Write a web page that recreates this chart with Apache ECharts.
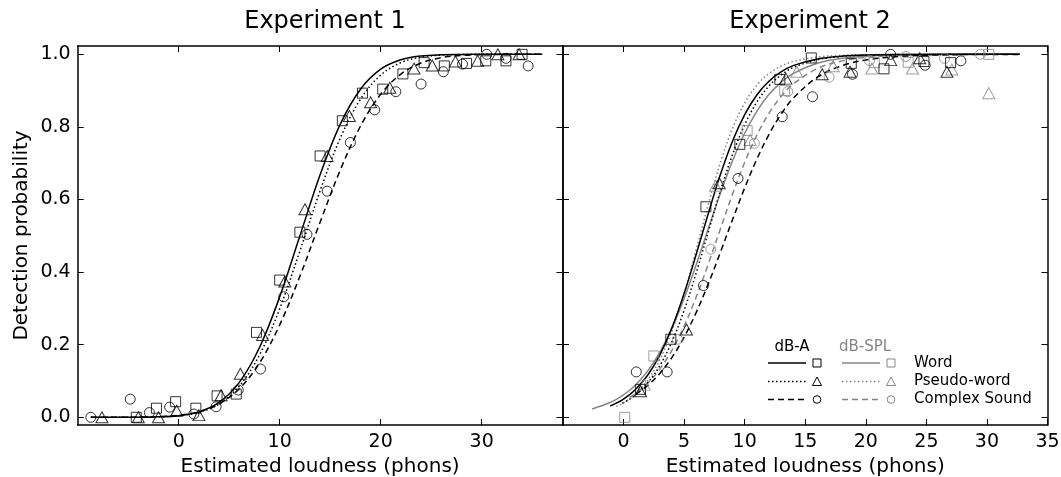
<!DOCTYPE html>
<html>
<head>
<meta charset="utf-8">
<script src="https://cdn.jsdelivr.net/npm/echarts@6/dist/echarts.min.js"></script>
<style>
  html, body { margin: 0; padding: 0; background: #fff; }
  #chart { width: 1061px; height: 477px; }
</style>
</head>
<body>
<div id="chart"></div>
<script>
// Experiment 1 : points (x = loudness in phons, p = detection probability)
var e1WordX = [-4.2, -2.2, -0.3, 1.7, 3.8, 5.7, 7.7, 10.0, 12.0, 14.0, 16.2, 18.2, 20.2, 22.2, 24.3, 26.3, 28.5, 30.4, 32.4, 34.0];
var e1WordP = [0.0, 0.025, 0.043, 0.025, 0.059, 0.064, 0.234, 0.378, 0.51, 0.72, 0.817, 0.893, 0.904, 0.946, 0.977, 0.968, 0.975, 0.982, 0.982, 1.0];
var e1PseudoX = [-7.6, -4.0, -2.0, -0.2, 2.0, 4.2, 6.1, 8.3, 10.5, 12.5, 14.7, 16.9, 19.0, 20.9, 23.3, 25.1, 27.4, 29.6, 31.6, 33.7];
var e1PseudoP = [0.0, 0.0, 0.0, 0.018, 0.006, 0.061, 0.12, 0.227, 0.374, 0.573, 0.72, 0.83, 0.868, 0.908, 0.961, 0.969, 0.98, 0.982, 1.0, 1.0];
var e1ComplexX = [-8.7, -4.8, -2.9, -0.9, 1.5, 3.7, 5.9, 8.1, 10.4, 12.7, 14.7, 17.0, 19.4, 21.5, 24.0, 26.2, 28.1, 30.5, 32.4, 34.6];
var e1ComplexP = [0.0, 0.05, 0.013, 0.028, 0.009, 0.029, 0.075, 0.133, 0.332, 0.504, 0.623, 0.757, 0.847, 0.897, 0.918, 0.952, 0.973, 1.0, 0.989, 0.968];

// Experiment 1 : fitted curves
var e1FitX = [-8.7, -6, -4, -2, 0, 2, 4, 6, 8, 10, 12, 14, 16, 18, 20, 22, 24, 26, 28, 30, 33, 36];
var e1WordFit = [0, 0.0001, 0.0003, 0.0012, 0.0045, 0.015, 0.0409, 0.0961, 0.1922, 0.3318, 0.5, 0.6682, 0.8078, 0.9039, 0.9591, 0.985, 0.9955, 0.9988, 0.9997, 1, 1, 1];
var e1PseudoFit = [0, 0.0001, 0.0003, 0.0011, 0.0043, 0.0135, 0.0367, 0.0856, 0.1718, 0.2994, 0.4582, 0.624, 0.7694, 0.8765, 0.9428, 0.9772, 0.9922, 0.9977, 0.9994, 0.9999, 1, 1];
var e1ComplexFit = [0, 0.0001, 0.0005, 0.0017, 0.0054, 0.015, 0.0367, 0.0785, 0.1497, 0.2546, 0.3886, 0.5376, 0.6815, 0.8021, 0.8899, 0.9456, 0.9762, 0.9909, 0.9969, 0.9991, 0.9999, 1];

// Experiment 2 : points, dB-A (black) and dB-SPL (grey)
var e2WordAX = [1.4, 3.9, 6.8, 9.6, 12.9, 15.5, 18.8, 21.5, 24.8, 27.0];
var e2WordAP = [0.077, 0.215, 0.58, 0.752, 0.931, 0.99, 0.975, 0.96, 0.98, 0.977];
var e2PseudoAX = [1.4, 5.2, 7.9, 13.4, 16.4, 18.7, 22.05, 24.45, 26.7];
var e2PseudoAP = [0.072, 0.242, 0.645, 0.933, 0.945, 0.952, 0.984, 0.989, 0.952];
var e2ComplexAX = [1.05, 3.6, 6.6, 9.45, 13.1, 15.6, 18.9, 22.05, 24.9, 27.85];
var e2ComplexAP = [0.125, 0.125, 0.363, 0.658, 0.828, 0.883, 0.945, 1.0, 0.97, 0.982];
var e2WordSX = [0.1, 2.5, 10.2, 13.3, 20.7, 23.5, 30.15];
var e2WordSP = [0.0, 0.169, 0.79, 0.9, 0.977, 0.978, 1.0];
var e2PseudoSX = [1.7, 7.6, 10.45, 14.3, 17.3, 20.5, 23.85, 27.1, 30.15];
var e2PseudoSP = [0.09, 0.638, 0.764, 0.952, 0.967, 0.961, 0.961, 0.958, 0.893];
var e2ComplexSX = [4.45, 7.2, 10.8, 13.55, 16.97, 20.3, 23.3, 26.5, 29.46];
var e2ComplexSP = [0.215, 0.463, 0.755, 0.897, 0.937, 0.983, 0.994, 0.989, 1.0];

// Experiment 2 : fitted curves (null = curve not drawn there)
var e2FitX = [-2.6, -1.1, -0.6, -0.1, 0.5, 1, 2, 3, 4, 5, 6, 7, 8, 9, 10, 11, 12, 13, 14, 16, 18, 20, 23, 26, 29, 32.7];
var e2WordAFit = [null, 0.0312, 0.0389, 0.0483, 0.0625, 0.0773, 0.1166, 0.1722, 0.247, 0.3408, 0.449, 0.5622, 0.6693, 0.7613, 0.8341, 0.888, 0.9258, 0.9516, 0.9688, 0.9872, 0.9948, 0.9979, 0.9995, 0.9999, 1, 1];
var e2WordSFit = [0.0227, 0.0407, 0.0493, 0.0595, 0.0745, 0.0895, 0.1279, 0.1795, 0.246, 0.3274, 0.4207, 0.52, 0.6177, 0.7068, 0.7825, 0.8429, 0.889, 0.9228, 0.9469, 0.9754, 0.9888, 0.9949, 0.9985, 0.9995, 0.9999, 1];
var e2PseudoAFit = [null, null, null, 0.0384, 0.05, 0.0622, 0.095, 0.1426, 0.2085, 0.2944, 0.398, 0.5115, 0.6239, 0.7243, 0.8062, 0.8683, 0.9127, 0.943, 0.9633, 0.985, 0.994, 0.9976, 0.9994, 0.9998, 1, 1];
var e2PseudoSFit = [null, null, 0.0298, 0.038, 0.0507, 0.0644, 0.1023, 0.1589, 0.2383, 0.3414, 0.4621, 0.5876, 0.7024, 0.7964, 0.8663, 0.9148, 0.9468, 0.9672, 0.98, 0.9926, 0.9973, 0.999, 0.9998, 1, 1, 1];
var e2ComplexAFit = [null, null, null, null, null, 0.063, 0.0879, 0.1213, 0.1652, 0.221, 0.289, 0.3682, 0.4551, 0.5449, 0.6318, 0.711, 0.779, 0.8348, 0.8787, 0.937, 0.9683, 0.9843, 0.9946, 0.9982, 0.9994, 0.9998];
var e2ComplexSFit = [null, null, null, null, 0.0548, 0.0659, 0.0943, 0.1333, 0.1851, 0.2513, 0.3314, 0.4226, 0.5195, 0.615, 0.7022, 0.777, 0.8372, 0.8837, 0.9182, 0.9608, 0.9816, 0.9915, 0.9973, 0.9992, 0.9997, 1];

var yTicks = [0, 0.2, 0.4, 0.6, 0.8, 1.0];
var e1Ticks = [0, 10, 20, 30];
var e2Ticks = [0, 5, 10, 15, 20, 25, 30, 35];

var BLACK = '#000';
var GREY = '#858585';
var FONT = 'DejaVu Sans';

function pairs(xs, ys) {
    var out = [];
    for (var i = 0; i < xs.length; i++) {
        if (ys[i] !== null) out.push([xs[i], ys[i]]);
    }
    return out;
}

function fitLine(idx, xs, ys, color, dash) {
    return {
        type: 'line', xAxisIndex: idx, yAxisIndex: idx,
        data: pairs(xs, ys), showSymbol: false, smooth: 0.35,
        lineStyle: { color: color, width: 1.5, type: dash },
        silent: true, z: 2
    };
}

function points(idx, xs, ys, symbol, color) {
    var size = symbol === 'rect' ? 10 : (symbol === 'triangle' ? [12, 11] : 10);
    return {
        type: 'scatter', xAxisIndex: idx, yAxisIndex: idx,
        data: pairs(xs, ys), symbol: symbol, symbolSize: size,
        itemStyle: { color: 'rgba(0,0,0,0)', borderColor: color, borderWidth: 1 },
        silent: true, z: 3
    };
}

function xAxes(grid, min, max, ticks) {
    var base = {
        type: 'value', gridIndex: grid, min: min, max: max,
        axisLine: { show: true, onZero: false, lineStyle: { color: BLACK, width: 1.5 } },
        axisTick: { show: true, inside: true, length: 6, customValues: ticks, lineStyle: { color: BLACK, width: 1 } },
        splitLine: { show: false }
    };
    var bottom = Object.assign({}, base, {
        position: 'bottom',
        axisLabel: { customValues: ticks, fontSize: 19, color: BLACK, fontFamily: FONT, margin: 8 },
        name: 'Estimated loudness (phons)', nameLocation: 'middle', nameGap: 32,
        nameTextStyle: { fontSize: 20, color: BLACK, fontFamily: FONT }
    });
    var top = Object.assign({}, base, { position: 'top', axisLabel: { show: false } });
    return [bottom, top];
}

function yAxes(grid, showLabels) {
    var base = {
        type: 'value', gridIndex: grid, min: -0.0212, max: 1.0229,
        axisLine: { show: true, onZero: false, lineStyle: { color: BLACK, width: 1.5 } },
        axisTick: { show: true, inside: true, length: 6, customValues: yTicks, lineStyle: { color: BLACK, width: 1 } },
        splitLine: { show: false }
    };
    var left = Object.assign({}, base, {
        position: 'left',
        axisLabel: showLabels ? {
            customValues: yTicks, fontSize: 19, color: BLACK, fontFamily: FONT, margin: 7,
            formatter: function (v) { return v.toFixed(1); }
        } : { show: false }
    });
    if (showLabels) {
        left.name = 'Detection probability';
        left.nameLocation = 'middle';
        left.nameGap = 46;
        left.nameTextStyle = { fontSize: 20, color: BLACK, fontFamily: FONT };
    }
    var right = Object.assign({}, base, { position: 'right', axisLabel: { show: false } });
    return [left, right];
}

// legend drawn by hand (two columns of line + marker, then the row label)
function legendGraphic() {
    var g = [];
    var rows = [363, 381.5, 399.5];
    var dashes = [null, [1.5, 2.5], [6, 4]];
    var names = ['Word', 'Pseudo-word', 'Complex Sound'];
    var shapes = ['rect', 'triangle', 'circle'];
    var cols = [{ x1: 768, x2: 806, m: 817, color: BLACK }, { x1: 842, x2: 880, m: 891, color: GREY }];
    g.push({ type: 'text', x: 792, y: 347, style: { text: 'dB-A', fill: BLACK, font: '15px "DejaVu Sans"', align: 'center', verticalAlign: 'middle' } });
    g.push({ type: 'text', x: 865, y: 347, style: { text: 'dB-SPL', fill: GREY, font: '15px "DejaVu Sans"', align: 'center', verticalAlign: 'middle' } });
    rows.forEach(function (y, r) {
        cols.forEach(function (c) {
            g.push({ type: 'line', shape: { x1: c.x1, y1: y, x2: c.x2, y2: y },
                style: { stroke: c.color, lineWidth: 1.5, lineDash: dashes[r] } });
            var st = { fill: 'none', stroke: c.color, lineWidth: 1 };
            if (shapes[r] === 'rect') {
                g.push({ type: 'rect', shape: { x: c.m - 4, y: y - 4, width: 8, height: 8 }, style: st });
            } else if (shapes[r] === 'triangle') {
                g.push({ type: 'polygon', shape: { points: [[c.m, y - 4.5], [c.m + 4.5, y + 4], [c.m - 4.5, y + 4]] }, style: st });
            } else {
                g.push({ type: 'circle', shape: { cx: c.m, cy: y, r: 3.8 }, style: st });
            }
        });
        g.push({ type: 'text', x: 914, y: y, style: { text: names[r], fill: BLACK, font: '15px "DejaVu Sans"', align: 'left', verticalAlign: 'middle' } });
    });
    return g;
}

var chart = echarts.init(document.getElementById('chart'), null, { renderer: 'canvas' });

var option = {
    animation: false,
    backgroundColor: '#fff',
    textStyle: { fontFamily: FONT },
    title: [
        { text: 'Experiment 1', left: 320, top: 5, textAlign: 'center',
          textStyle: { fontSize: 24, fontWeight: 'normal', color: BLACK, fontFamily: FONT } },
        { text: 'Experiment 2', left: 805, top: 5, textAlign: 'center',
          textStyle: { fontSize: 24, fontWeight: 'normal', color: BLACK, fontFamily: FONT } }
    ],
    grid: [
        { left: 77.7, top: 46, width: 484.8, height: 379, containLabel: false, outerBoundsMode: 'none' },
        { left: 563, top: 46, width: 484.5, height: 379, containLabel: false, outerBoundsMode: 'none' }
    ],
    xAxis: xAxes(0, -10, 38, e1Ticks).concat(xAxes(1, -5, 35, e2Ticks)),
    yAxis: yAxes(0, true).concat(yAxes(1, false)),
    graphic: legendGraphic(),
    series: [
        // axis index 0 = left panel bottom/left axes, 2 = right panel bottom/left axes
        fitLine(0, e1FitX, e1WordFit, BLACK, 'solid'),
        fitLine(0, e1FitX, e1PseudoFit, BLACK, [1.5, 2.5]),
        fitLine(0, e1FitX, e1ComplexFit, BLACK, [6, 4]),
        points(0, e1WordX, e1WordP, 'rect', BLACK),
        points(0, e1PseudoX, e1PseudoP, 'triangle', BLACK),
        points(0, e1ComplexX, e1ComplexP, 'circle', BLACK),

        fitLine(2, e2FitX, e2WordSFit, GREY, 'solid'),
        fitLine(2, e2FitX, e2PseudoSFit, GREY, [1.5, 2.5]),
        fitLine(2, e2FitX, e2ComplexSFit, GREY, [6, 4]),
        fitLine(2, e2FitX, e2WordAFit, BLACK, 'solid'),
        fitLine(2, e2FitX, e2PseudoAFit, BLACK, [1.5, 2.5]),
        fitLine(2, e2FitX, e2ComplexAFit, BLACK, [6, 4]),
        points(2, e2WordSX, e2WordSP, 'rect', GREY),
        points(2, e2PseudoSX, e2PseudoSP, 'triangle', GREY),
        points(2, e2ComplexSX, e2ComplexSP, 'circle', GREY),
        points(2, e2WordAX, e2WordAP, 'rect', BLACK),
        points(2, e2PseudoAX, e2PseudoAP, 'triangle', BLACK),
        points(2, e2ComplexAX, e2ComplexAP, 'circle', BLACK)
    ]
};

chart.setOption(option);
</script>
</body>
</html>
